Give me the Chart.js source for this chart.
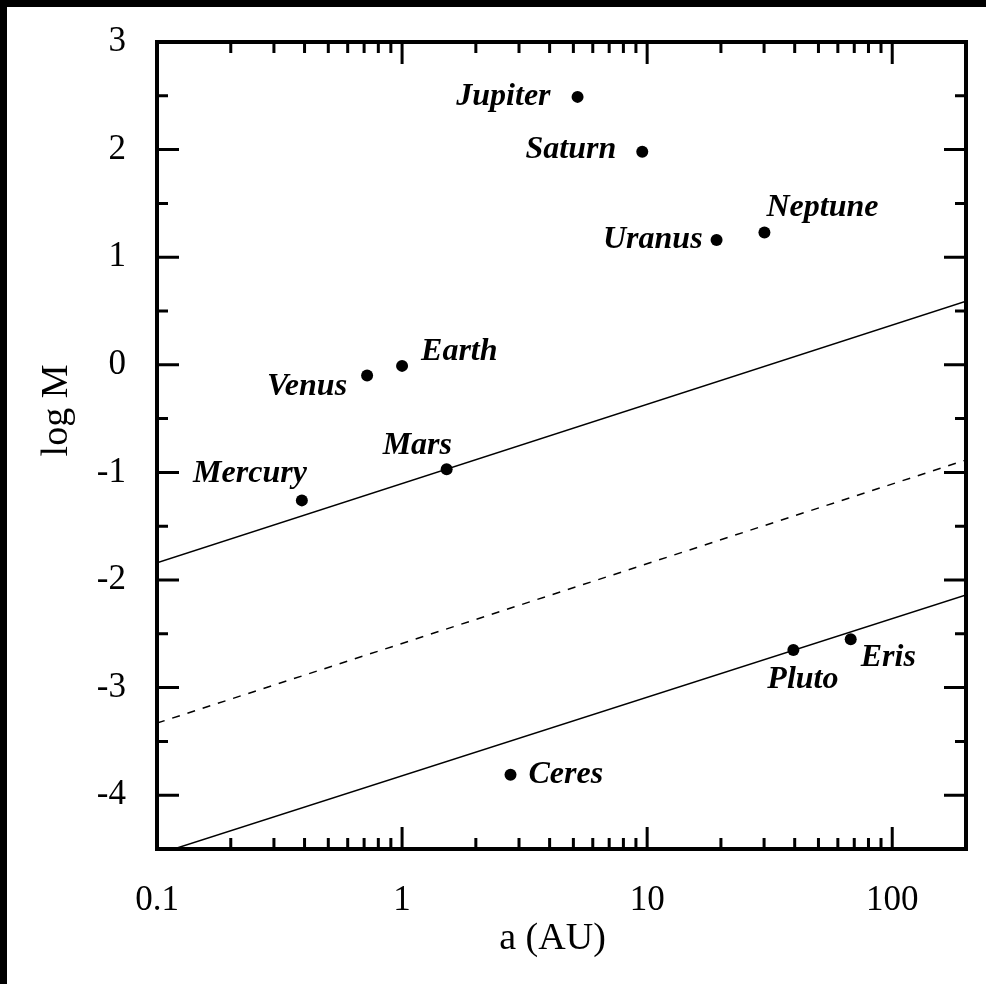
<!DOCTYPE html>
<html>
<head>
<meta charset="utf-8">
<title>log M vs a</title>
<script src="https://cdn.jsdelivr.net/npm/chart.js@4.4.1/dist/chart.umd.min.js"></script>
<style>
    html, body { margin: 0; padding: 0; background: #000; }
    #wrap { position: absolute; left: 7px; top: 7px; width: 979px; height: 977px; background: #fff; }
</style>
</head>
<body>
<div id="wrap"><canvas id="c"></canvas></div>
<script>
    // planets: semi-major axis (AU) and log mass (Earth masses)
    var planetNames = ["Mercury", "Venus", "Earth", "Mars", "Ceres", "Jupiter", "Saturn", "Uranus", "Neptune", "Pluto", "Eris"];
    var planetA = [0.39, 0.72, 1.0, 1.52, 2.77, 5.2, 9.55, 19.2, 30.1, 39.5, 67.7];
    var planetLogM = [-1.26, -0.10, -0.01, -0.97, -3.81, 2.49, 1.98, 1.16, 1.23, -2.65, -2.55];

    // the three reference lines, given at both ends of the a range
    var lineA = [0.1, 200];
    var upperLine = [-1.84, 0.59];
    var middleLine = [-3.33, -0.885];
    var lowerLine = [-4.55, -2.14];

    var xMajorTicks = [0.1, 1, 10, 100];
    var xMinorTicks = [0.2, 0.3, 0.4, 0.5, 0.6, 0.7, 0.8, 0.9, 2, 3, 4, 5, 6, 7, 8, 9, 20, 30, 40, 50, 60, 70, 80, 90];
    var yMajorTicks = [-4, -3, -2, -1, 0, 1, 2, 3];
    var yMinorTicks = [-3.5, -2.5, -1.5, -0.5, 0.5, 1.5, 2.5];

    // label placement relative to each point (pixels), same order as planetNames
    var labelPlacement = [
        { dx: 5, dy: -27, align: "right" },
        { dx: -20, dy: 11, align: "right" },
        { dx: 19, dy: -14, align: "left" },
        { dx: -64, dy: -23, align: "left" },
        { dx: 18, dy: 0, align: "left" },
        { dx: -27, dy: 0, align: "right" },
        { dx: -26, dy: -2, align: "right" },
        { dx: -14, dy: 0, align: "right" },
        { dx: 2, dy: -25, align: "left" },
        { dx: -26, dy: 30, align: "left" },
        { dx: 10, dy: 19, align: "left" }
    ];

    var serif = '"Liberation Serif", "Times New Roman", serif';

    function pairs(xs, ys) {
        return xs.map(function(x, i) { return { x: x, y: ys[i] }; });
    }

    var framePlugin = {
        id: "frame",
        afterDraw: function(chart) {
            var ctx = chart.ctx, a = chart.chartArea;
            var xs = chart.scales.x, ys = chart.scales.y;
            ctx.save();
            ctx.strokeStyle = "#000";
            ctx.lineCap = "butt";

            ctx.lineWidth = 3;
            function xTick(v, len) {
                var px = xs.getPixelForValue(v);
                ctx.beginPath();
                ctx.moveTo(px, a.bottom); ctx.lineTo(px, a.bottom - len);
                ctx.moveTo(px, a.top); ctx.lineTo(px, a.top + len);
                ctx.stroke();
            }
            function yTick(v, len) {
                var py = ys.getPixelForValue(v);
                ctx.beginPath();
                ctx.moveTo(a.left, py); ctx.lineTo(a.left + len, py);
                ctx.moveTo(a.right, py); ctx.lineTo(a.right - len, py);
                ctx.stroke();
            }
            xMajorTicks.forEach(function(v) { xTick(v, 22); });
            xMinorTicks.forEach(function(v) { xTick(v, 11); });
            yMajorTicks.forEach(function(v) { yTick(v, 22); });
            yMinorTicks.forEach(function(v) { yTick(v, 11); });

            ctx.lineWidth = 4;
            ctx.strokeRect(a.left, a.top, a.right - a.left, a.bottom - a.top);

            // planet names
            ctx.fillStyle = "#000";
            ctx.font = "italic bold 32px " + serif;
            ctx.textBaseline = "middle";
            planetNames.forEach(function(name, i) {
                var p = labelPlacement[i];
                ctx.textAlign = p.align;
                ctx.fillText(name, xs.getPixelForValue(planetA[i]) + p.dx, ys.getPixelForValue(planetLogM[i]) + p.dy);
            });

            // axis titles
            ctx.font = "38px " + serif;
            ctx.textAlign = "center";
            ctx.fillText("a (AU)", (a.left + a.right) / 2 - 9, a.bottom + 90);
            ctx.translate(a.left - 100, (a.top + a.bottom) / 2 - 35);
            ctx.rotate(-Math.PI / 2);
            ctx.fillText("log M", 0, 0);
            ctx.restore();
        }
    };

    var lineStyle = { showLine: true, borderColor: "#000", borderWidth: 1.5, pointRadius: 0, fill: false };

    new Chart(document.getElementById("c"), {
        type: "scatter",
        data: {
            datasets: [
                Object.assign({ data: pairs(lineA, upperLine) }, lineStyle),
                Object.assign({ data: pairs(lineA, middleLine), borderDash: [8, 8] }, lineStyle),
                Object.assign({ data: pairs(lineA, lowerLine) }, lineStyle),
                {
                    data: pairs(planetA, planetLogM),
                    pointRadius: 6,
                    pointBackgroundColor: "#000",
                    pointBorderWidth: 0
                }
            ]
        },
        options: {
            responsive: true,
            maintainAspectRatio: false,
            animation: false,
            layout: { padding: { top: 35, right: 20, left: 0, bottom: 0 } },
            plugins: { legend: { display: false }, tooltip: { enabled: false } },
            scales: {
                x: {
                    type: "logarithmic",
                    min: 0.1,
                    max: 200,
                    grid: { display: false, drawTicks: false },
                    border: { display: false },
                    afterBuildTicks: function(s) { s.ticks = xMajorTicks.map(function(v) { return { value: v }; }); },
                    afterFit: function(s) { s.height = 135; },
                    ticks: {
                        autoSkip: false,
                        maxRotation: 0,
                        padding: 31,
                        color: "#000",
                        font: { family: serif, size: 35 },
                        callback: function(v) { return String(v); }
                    }
                },
                y: {
                    type: "linear",
                    min: -4.5,
                    max: 3,
                    grid: { display: false, drawTicks: false },
                    border: { display: false },
                    afterBuildTicks: function(s) { s.ticks = yMajorTicks.map(function(v) { return { value: v }; }); },
                    afterFit: function(s) { s.width = 150; },
                    ticks: {
                        padding: 31,
                        color: "#000",
                        // small line height keeps the top label from pushing the plot area down
                        font: { family: serif, size: 35, lineHeight: 0.1 },
                        callback: function(v) { return String(v); }
                    }
                }
            }
        },
        plugins: [framePlugin]
    });
</script>
</body>
</html>
